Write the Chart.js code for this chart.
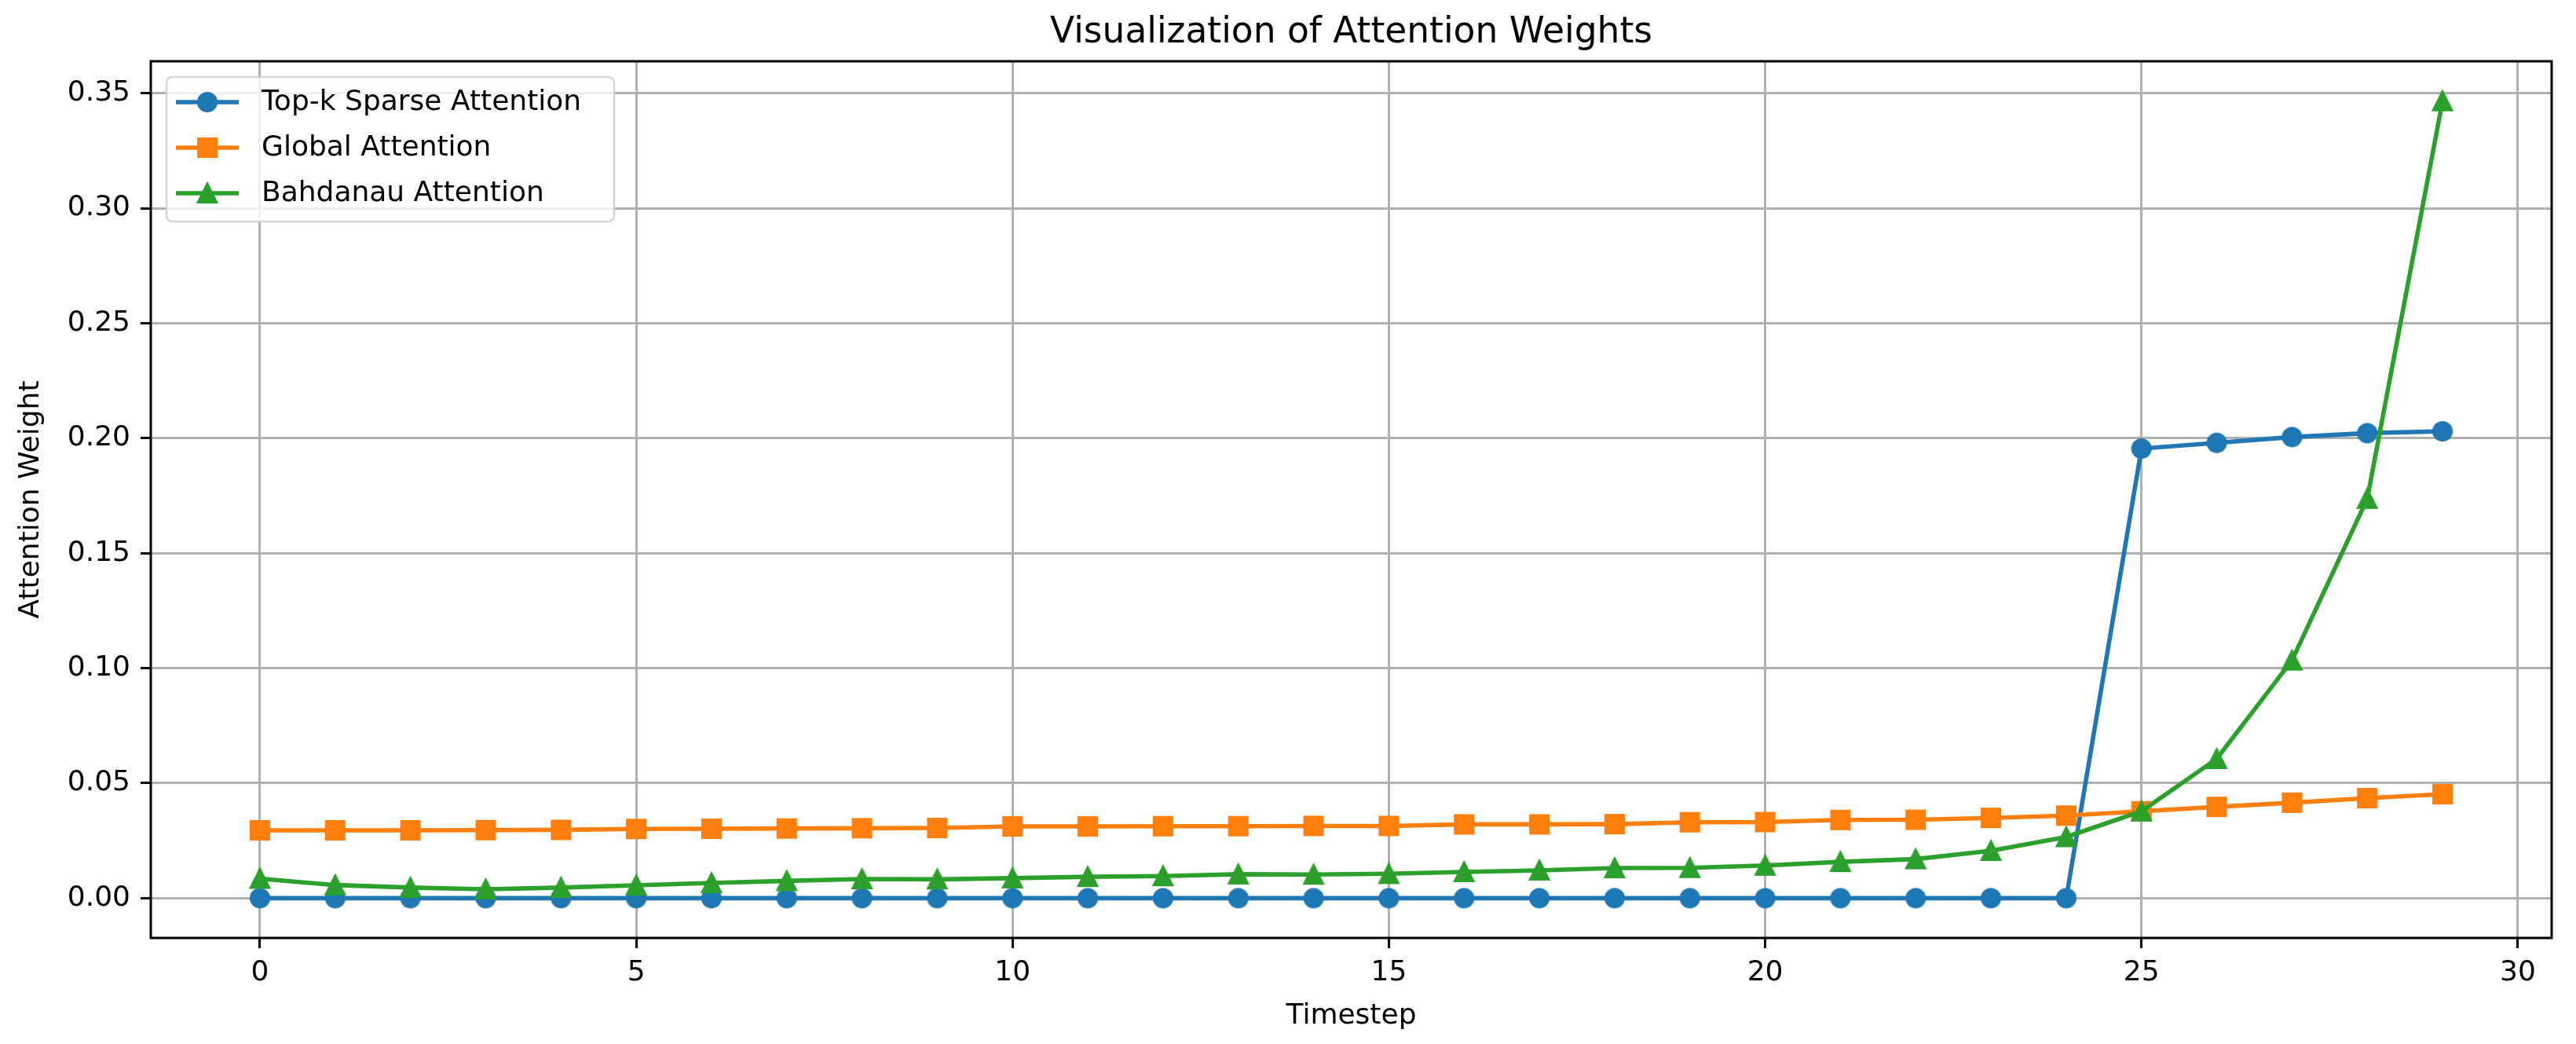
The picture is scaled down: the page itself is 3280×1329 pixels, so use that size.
<!DOCTYPE html>
<html><head><meta charset="utf-8">
<script src="https://cdn.jsdelivr.net/npm/chart.js@4.4.1/dist/chart.umd.min.js"></script>
<style>html,body{margin:0;padding:0;background:#fff;overflow:hidden}</style>
</head><body>
<canvas id="c" width="3280" height="1329" style="width:3280px;height:1329px;display:block"></canvas>
<script>
const timesteps = [0,1,2,3,4,5,6,7,8,9,10,11,12,13,14,15,16,17,18,19,20,21,22,23,24,25,26,27,28,29];
const topkSparse = [0,0,0,0,0,0,0,0,0,0,0,0,0,0,0,0,0,0,0,0,0,0,0,0,0,0.1955,0.1980,0.2005,0.2022,0.2030];
const globalAttn = [0.0295,0.0295,0.0295,0.0296,0.0297,0.0301,0.0302,0.0303,0.0304,0.0305,0.0312,0.0312,0.0313,0.0313,0.0314,0.0314,0.0321,0.0321,0.0322,0.0330,0.0331,0.0340,0.0341,0.0349,0.0359,0.0378,0.0397,0.0415,0.0435,0.0452];
const bahdanau = [0.0085,0.0057,0.0046,0.0039,0.0046,0.0056,0.0066,0.0075,0.0083,0.0082,0.0087,0.0093,0.0096,0.0104,0.0103,0.0106,0.0114,0.0121,0.0131,0.0132,0.0142,0.0158,0.0170,0.0206,0.0266,0.0378,0.0606,0.1034,0.1737,0.3466];
const seriesLabels = ['Top-k Sparse Attention','Global Attention','Bahdanau Attention'];
const xTicks = [0,5,10,15,20,25,30];
const yTicks = [0,0.05,0.10,0.15,0.20,0.25,0.30,0.35];
const titleText = 'Visualization of Attention Weights';
const xTitle = 'Timestep';
const yTitle = 'Attention Weight';

const COLORS = ['#1f77b4','#ff7f0e','#2ca02c'];
const KINDS = ['circle','square','triangle'];
const FONT = '"DejaVu Sans", sans-serif';
const TICK_PX = 36, TITLE_PX = 45.5;

function makeMarker(kind, color) {
  const S = 34, c = document.createElement('canvas');
  c.width = S; c.height = S;
  const g = c.getContext('2d');
  const m = 11.2, cx = S/2, cy = S/2;
  g.fillStyle = color; g.strokeStyle = color; g.lineWidth = 3.7; g.lineJoin = 'miter';
  g.beginPath();
  if (kind === 'circle') g.arc(cx, cy, m, 0, Math.PI*2);
  else if (kind === 'square') g.rect(cx-m, cy-m, 2*m, 2*m);
  else { g.moveTo(cx, cy-m); g.lineTo(cx-m, cy+m); g.lineTo(cx+m, cy+m); g.closePath(); }
  g.fill(); g.stroke();
  return c;
}
const markers = KINDS.map((k,i) => makeMarker(k, COLORS[i]));

function toPts(vals) { return timesteps.map((t,i) => ({x:t, y:vals[i]})); }
const seriesVals = [topkSparse, globalAttn, bahdanau];

const datasets = seriesVals.map((vals,i) => ({
  label: seriesLabels[i],
  data: toPts(vals),
  borderColor: COLORS[i],
  backgroundColor: COLORS[i],
  borderWidth: 5.6,
  pointStyle: markers[i],
  pointRadius: 13,
  pointHoverRadius: 13,
  tension: 0,
  fill: false,
  order: 2 - i
}));

const decor = {
  id: 'decor',
  afterDatasetsDraw(chart) {
    const ctx = chart.ctx, a = chart.chartArea;
    ctx.save();
    ctx.strokeStyle = '#000'; ctx.lineWidth = 3;
    ctx.strokeRect(a.left, a.top, a.right - a.left, a.bottom - a.top);
    const bx = a.left + 20, by = a.top + 20, bw = 570, bh = 184, r = 7.4;
    ctx.beginPath();
    ctx.moveTo(bx + r, by);
    ctx.arcTo(bx + bw, by, bx + bw, by + bh, r);
    ctx.arcTo(bx + bw, by + bh, bx, by + bh, r);
    ctx.arcTo(bx, by + bh, bx, by, r);
    ctx.arcTo(bx, by, bx + bw, by, r);
    ctx.closePath();
    ctx.fillStyle = 'rgba(255,255,255,0.8)'; ctx.fill();
    ctx.strokeStyle = 'rgba(204,204,204,0.8)'; ctx.lineWidth = 2.5; ctx.stroke();
    const rows = [130, 188, 246];
    ctx.font = TICK_PX + 'px ' + FONT;
    ctx.textBaseline = 'middle'; ctx.textAlign = 'left';
    seriesLabels.forEach((lab, i) => {
      const y = rows[i];
      ctx.strokeStyle = COLORS[i]; ctx.lineWidth = 5.6; ctx.lineCap = 'butt';
      ctx.beginPath(); ctx.moveTo(224, y); ctx.lineTo(304, y); ctx.stroke();
      const m = markers[i];
      ctx.drawImage(m, 264 - m.width/2, y - m.height/2);
      ctx.fillStyle = '#000';
      ctx.fillText(lab, 333, y + 1);
    });
    ctx.restore();
  },
  afterDraw(chart) {
    const ctx = chart.ctx, a = chart.chartArea;
    const cx = (a.left + a.right) / 2;
    ctx.save();
    ctx.fillStyle = '#000';
    ctx.textAlign = 'center';
    ctx.textBaseline = 'alphabetic';
    ctx.font = TITLE_PX + 'px ' + FONT;
    ctx.fillText(titleText, cx, 54);
    ctx.font = TICK_PX + 'px ' + FONT;
    ctx.fillText(xTitle, cx, 1303);
    ctx.translate(40, (a.top + a.bottom) / 2);
    ctx.rotate(-Math.PI / 2);
    ctx.textBaseline = 'middle';
    ctx.fillText(yTitle, 0, 0);
    ctx.restore();
  }
};

const gridOpts = {color:'#b0b0b0', lineWidth:3, tickColor:'#000', tickWidth:3, tickLength:13, drawTicks:true, drawOnChartArea:true};

new Chart(document.getElementById('c'), {
  type: 'line',
  data: { datasets },
  plugins: [decor],
  options: {
    responsive: false,
    animation: false,
    devicePixelRatio: 1,
    layout: { padding: {top:78, right:31, bottom:0, left:0} },
    plugins: { legend: {display:false}, title: {display:false}, tooltip: {enabled:false} },
    events: [],
    scales: {
      x: {
        type: 'linear', min: -1.45, max: 30.45,
        grid: gridOpts,
        border: {display:false},
        afterBuildTicks: (ax) => { ax.ticks = xTicks.map(v => ({value:v})); },
        afterFit: (ax) => { ax.height = 135; },
        ticks: { color:'#000', font:{family:FONT, size:TICK_PX}, padding:10, maxRotation:0, autoSkip:false,
                 callback: (v) => String(v) }
      },
      y: {
        type: 'linear', min: -0.0173, max: 0.3639,
        grid: gridOpts,
        border: {display:false},
        afterBuildTicks: (ax) => { ax.ticks = yTicks.map(v => ({value:v})); },
        afterFit: (ax) => { ax.width = 192; },
        ticks: { color:'#000', font:{family:FONT, size:TICK_PX}, padding:13, autoSkip:false,
                 callback: (v) => Number(v).toFixed(2) }
      }
    }
  }
});
</script>
</body></html>
